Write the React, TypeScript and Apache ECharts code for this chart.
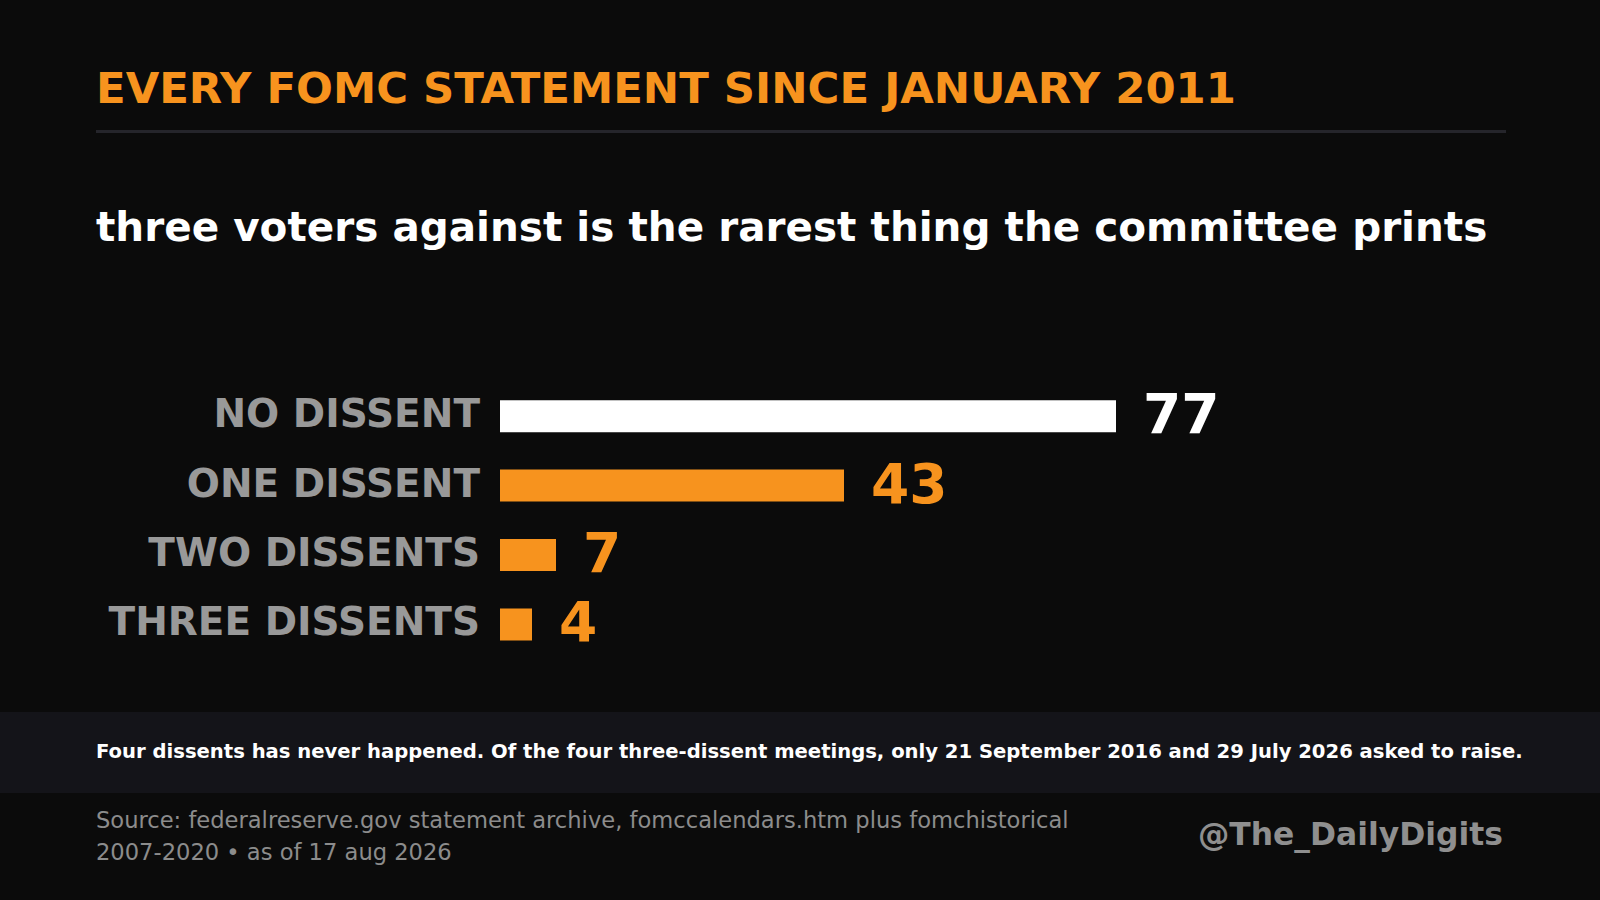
import React, { useEffect, useRef } from "react";
import * as echarts from "echarts";

const categories = ["NO DISSENT", "ONE DISSENT", "TWO DISSENTS", "THREE DISSENTS"];
const counts = [77, 43, 7, 4];
const barColors = ["#FFFFFF", "#F7931E", "#F7931E", "#F7931E"];

const TITLE = "EVERY FOMC STATEMENT SINCE JANUARY 2011";
const SUBTITLE = "three voters against is the rarest thing the committee prints";
const NOTE =
  "Four dissents has never happened. Of the four three-dissent meetings, only 21 September 2016 and 29 July 2026 asked to raise.";
const SOURCE1 = "Source: federalreserve.gov statement archive, fomccalendars.htm plus fomchistorical";
const SOURCE2 = "2007-2020 • as of 17 aug 2026";
const HANDLE = "@The_DailyDigits";

const FONT = "DejaVu Sans";
const ORANGE = "#F7931E";
const BG = "#0B0B0B";

export default function App() {
  const ref = useRef<HTMLDivElement>(null);

  useEffect(() => {
    document.body.style.margin = "0";
    document.body.style.background = BG;
    const chart = echarts.init(ref.current!, undefined, { renderer: "svg" });
    chart.setOption({
      animation: false,
      backgroundColor: BG,
      grid: { left: 500, top: 381.5, width: 800, height: 277.6, containLabel: false },
      xAxis: {
        type: "value",
        min: 0,
        max: 100,
        show: false,
        splitLine: { show: false },
      },
      yAxis: {
        type: "category",
        inverse: true,
        data: categories,
        axisLine: { show: false },
        axisTick: { show: false },
        splitLine: { show: false },
        axisLabel: {
          margin: 20,
          formatter: (v: string) => `{c|${v}}`,
          rich: {
            c: {
              color: "#999999",
              fontFamily: FONT,
              fontWeight: "bold",
              fontSize: 39,
              padding: [0, 0, 5, 0],
            },
          },
        },
      },
      series: [
        {
          type: "bar",
          barWidth: 32,
          data: counts.map((v, i) => ({
            value: v,
            itemStyle: { color: barColors[i] },
            label: { color: i === 0 ? "#FFFFFF" : ORANGE },
          })),
          label: {
            show: true,
            position: "right",
            distance: 27,
            fontFamily: FONT,
            fontWeight: "bold",
            fontSize: 55,
            offset: [0, -2],
          },
        },
      ],
      graphic: [
        {
          type: "text",
          x: 96,
          y: 87.5,
          style: {
            text: TITLE,
            fill: ORANGE,
            font: `bold 43.4px "${FONT}"`,
            verticalAlign: "middle",
          },
        },
        {
          type: "rect",
          shape: { x: 96, y: 130, width: 1410, height: 3 },
          style: { fill: "#25252B" },
        },
        {
          type: "text",
          x: 96,
          y: 227,
          style: {
            text: SUBTITLE,
            fill: "#FFFFFF",
            font: `bold 40.5px "${FONT}"`,
            verticalAlign: "middle",
          },
        },
        {
          type: "rect",
          shape: { x: 0, y: 712, width: 1600, height: 81 },
          style: { fill: "#141419" },
        },
        {
          type: "text",
          x: 96,
          y: 751,
          style: {
            text: NOTE,
            fill: "#FFFFFF",
            font: `bold 19.6px "${FONT}"`,
            verticalAlign: "middle",
          },
        },
        {
          type: "text",
          x: 96,
          y: 820,
          style: {
            text: SOURCE1,
            fill: "#8C8C8C",
            font: `22.6px "${FONT}"`,
            verticalAlign: "middle",
          },
        },
        {
          type: "text",
          x: 96,
          y: 852,
          style: {
            text: SOURCE2,
            fill: "#8C8C8C",
            font: `22.6px "${FONT}"`,
            verticalAlign: "middle",
          },
        },
        {
          type: "text",
          x: 1503,
          y: 833.5,
          style: {
            text: HANDLE,
            fill: "#8F8F8F",
            font: `bold 31.4px "${FONT}"`,
            align: "right",
            verticalAlign: "middle",
          },
        },
      ],
    });
    return () => chart.dispose();
  }, []);

  return (
    <div
      ref={ref}
      style={{ position: "fixed", left: 0, top: 0, width: 1600, height: 900, background: BG }}
    />
  );
}
